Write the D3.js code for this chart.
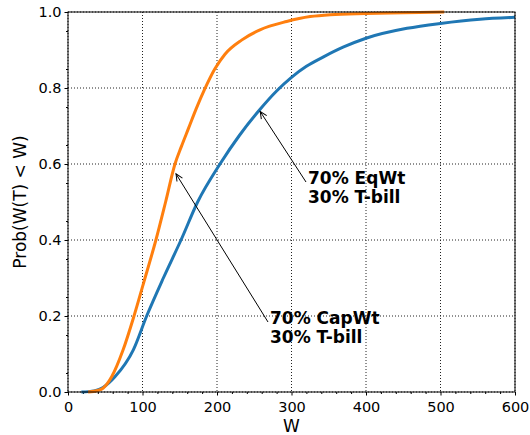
<!DOCTYPE html>
<html><head><meta charset="utf-8">
<script src="https://cdn.jsdelivr.net/npm/d3@7"></script>
<style>body{margin:0;background:#fff}svg{display:block}text{font-family:"DejaVu Sans",sans-serif}</style>
</head><body><svg id="c" width="530" height="435"></svg>
<script>
const xTicks = [0,100,200,300,400,500,600];
const yTicks = [0.0,0.2,0.4,0.6,0.8,1.0];
const capW = [27,40,47,58.6,74,88.6,101.9,118,131,143.6,152,162,172,183,197,210.7,233,257.7,293.5,325,352,400,450,505];
const capP = [0,0.004,0.01,0.04,0.111,0.2,0.29,0.4,0.5,0.6,0.645,0.695,0.745,0.795,0.85,0.889,0.926,0.953,0.975,0.988,0.993,0.996,0.998,1.0];
const eqW = [18,35,47,63,87.7,105.6,128,151.7,174,204,230,257,280,300,320,343,370,400,455,500,553,600];
const eqP = [0,0.003,0.012,0.04,0.111,0.2,0.3,0.4,0.5,0.6,0.675,0.742,0.792,0.828,0.857,0.882,0.908,0.931,0.957,0.970,0.981,0.986];
const labelEq = ["70% EqWt","30% T-bill"];
const labelCap = ["70% CapWt","30% T-bill"];

const svg = d3.select("#c");
const L=68,R=515,T=12,B=392;
const x = d3.scaleLinear().domain([0,600]).range([L,R]);
const y = d3.scaleLinear().domain([0,1]).range([B,T]);

// grid
const g = svg.append("g");
g.selectAll(".gx").data(xTicks).join("line").attr("x1",d=>x(d)).attr("x2",d=>x(d)).attr("y1",T).attr("y2",B)
 .attr("stroke","#222").attr("stroke-width",1).attr("stroke-dasharray","1,2");
g.selectAll(".gy").data(yTicks).join("line").attr("y1",d=>y(d)).attr("y2",d=>y(d)).attr("x1",L).attr("x2",R)
 .attr("stroke","#222").attr("stroke-width",1).attr("stroke-dasharray","1,2");

// axes
const xa = svg.append("g").attr("transform",`translate(0,${B})`)
  .call(d3.axisBottom(x).tickValues(xTicks).tickFormat(d3.format("d")).tickSize(3.5).tickPadding(3));
const xm = svg.append("g").attr("transform",`translate(0,${B})`)
  .call(d3.axisBottom(x).tickValues(d3.range(0,601,20).filter(v=>v%100)).tickFormat("").tickSize(2));
const ya = svg.append("g").attr("transform",`translate(${L},0)`)
  .call(d3.axisLeft(y).tickValues(yTicks).tickFormat(d3.format(".1f")).tickSize(3.5).tickPadding(3));
const ym = svg.append("g").attr("transform",`translate(${L},0)`)
  .call(d3.axisLeft(y).tickValues(d3.range(0.05,1,0.1)).tickFormat("").tickSize(2));
[xa,xm,ya,ym].forEach(a=>{a.select(".domain").remove();a.selectAll("text").attr("font-size","14.5px").attr("fill","#000").attr("font-family","DejaVu Sans");});
xa.selectAll("text").attr("dy","0.95em");

// lines
const line = d3.line().x(d=>x(d[0])).y(d=>y(d[1])).curve(d3.curveMonotoneX);
svg.append("path").datum(d3.zip(eqW,eqP)).attr("d",line).attr("fill","none").attr("stroke","#1f77b4").attr("stroke-width",3).attr("stroke-linejoin","round").attr("stroke-linecap","butt");
svg.append("path").datum(d3.zip(capW,capP)).attr("d",line).attr("fill","none").attr("stroke","#ff7f0e").attr("stroke-width",3).attr("stroke-linejoin","round").attr("stroke-linecap","butt");

// frame
svg.append("rect").attr("x",L).attr("y",T).attr("width",R-L).attr("height",B-T).attr("fill","none").attr("stroke","#000").attr("stroke-width",1);

// labels
svg.append("text").attr("x",(L+R)/2).attr("y",432).attr("text-anchor","middle").attr("font-size","17px").text("W");
svg.append("text").attr("transform","translate(26,202) rotate(-90)").attr("text-anchor","middle").attr("font-size","17px").text("Prob(W(T) < W)");

// annotations
svg.append("defs").append("marker").attr("id","ah").attr("viewBox","-10 -5 12 10").attr("refX",0).attr("refY",0)
  .attr("markerWidth",12).attr("markerHeight",10).attr("markerUnits","userSpaceOnUse").attr("orient","auto")
  .append("path").attr("d","M-7,-3.2L0,0L-7,3.2").attr("fill","none").attr("stroke","#000").attr("stroke-width",1);
function annot(lines, tx, ty, hx, hy, ax, ay){
  svg.append("line").attr("x1",ax).attr("y1",ay).attr("x2",x(hx)).attr("y2",y(hy)).attr("stroke","#000").attr("stroke-width",1).attr("marker-end","url(#ah)");
  const t = svg.append("text").attr("x",tx).attr("y",ty).attr("font-size","17px").attr("font-weight","bold");
  lines.forEach((s,i)=>t.append("tspan").attr("x",tx).attr("dy",i?19:0).text(s));
}
annot(labelEq, 308, 183.5, 258, 0.738, 306, 182);
annot(labelCap, 270, 323.5, 145, 0.574, 268, 322);
</script></body></html>
